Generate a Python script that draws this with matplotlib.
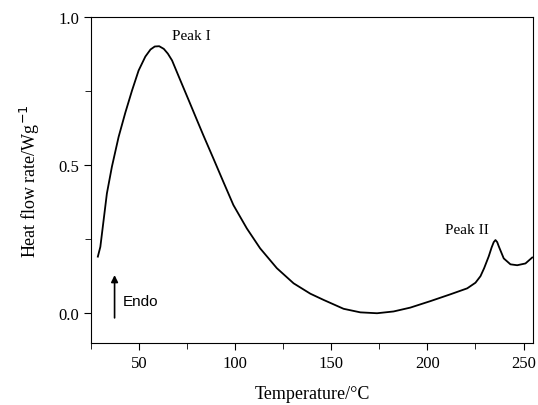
import numpy as np
import matplotlib
matplotlib.use('Agg')
import matplotlib.pyplot as plt
from matplotlib.ticker import MultipleLocator, FormatStrFormatter

# DSC trace (temperature in C, heat flow in W/g)
temp = [28.6, 29.9, 31.6, 33.3, 35.9, 39.4, 42.9, 46.4, 49.8, 53.3, 56.0, 58.2, 60.5,
        62.9, 65.0, 67.2, 71.5, 75.9, 80.2, 83.5, 88.7, 93.9, 99.1, 106.1, 113.0,
        121.7, 130.4, 139.1, 146.0, 156.4, 165.1, 173.8, 182.4, 191.1, 201.6, 212.0,
        220.7, 225.0, 227.6, 229.5, 231.9, 233.4, 234.5, 235.4, 236.3, 237.1, 239.7,
        243.2, 246.7, 251.0, 254.5]
heat = [0.191, 0.224, 0.314, 0.404, 0.494, 0.595, 0.677, 0.752, 0.819, 0.866, 0.890,
        0.900, 0.901, 0.892, 0.876, 0.853, 0.786, 0.718, 0.651, 0.600, 0.522, 0.443,
        0.365, 0.286, 0.219, 0.152, 0.101, 0.066, 0.045, 0.015, 0.003, 0.000, 0.006,
        0.019, 0.041, 0.064, 0.084, 0.103, 0.125, 0.152, 0.192, 0.222, 0.240, 0.247,
        0.240, 0.226, 0.185, 0.165, 0.162, 0.168, 0.188]

plt.rcParams['font.family'] = ['Liberation Serif', 'DejaVu Serif']
fig = plt.figure(figsize=(5.38, 4.06), dpi=100)
ax = fig.add_axes([0.169, 0.153, 0.822, 0.803])

ax.plot(temp, heat, color='black', linewidth=1.3, solid_joinstyle='round')

ax.set_xlim(25, 255)
ax.set_ylim(-0.1, 1.0)
ax.xaxis.set_major_locator(MultipleLocator(50))
ax.xaxis.set_minor_locator(MultipleLocator(25))
ax.yaxis.set_major_locator(MultipleLocator(0.5))
ax.yaxis.set_minor_locator(MultipleLocator(0.25))
ax.yaxis.set_major_formatter(FormatStrFormatter('%.1f'))
ax.tick_params(which='both', direction='out', labelsize=12, top=False, right=False)
ax.tick_params(which='major', length=5)
ax.tick_params(which='minor', length=4)

ax.set_xlabel('Temperature/\u00b0C', fontsize=13, labelpad=10)
ax.set_ylabel('Heat flow rate/Wg$^{-1}$', fontsize=13, labelpad=12)

ax.text(77.4, 0.937, 'Peak I', fontsize=11, ha='center', va='center')
ax.text(220.6, 0.283, 'Peak II', fontsize=11, ha='center', va='center')
ax.annotate('', xy=(37.3, 0.138), xytext=(37.3, -0.025),
            arrowprops=dict(arrowstyle='-|>', color='black', lw=1.2, mutation_scale=10))
ax.text(41.5, 0.04, 'Endo', fontsize=11, family='Liberation Sans', ha='left', va='center')

fig.savefig('out.png', dpi=100)
